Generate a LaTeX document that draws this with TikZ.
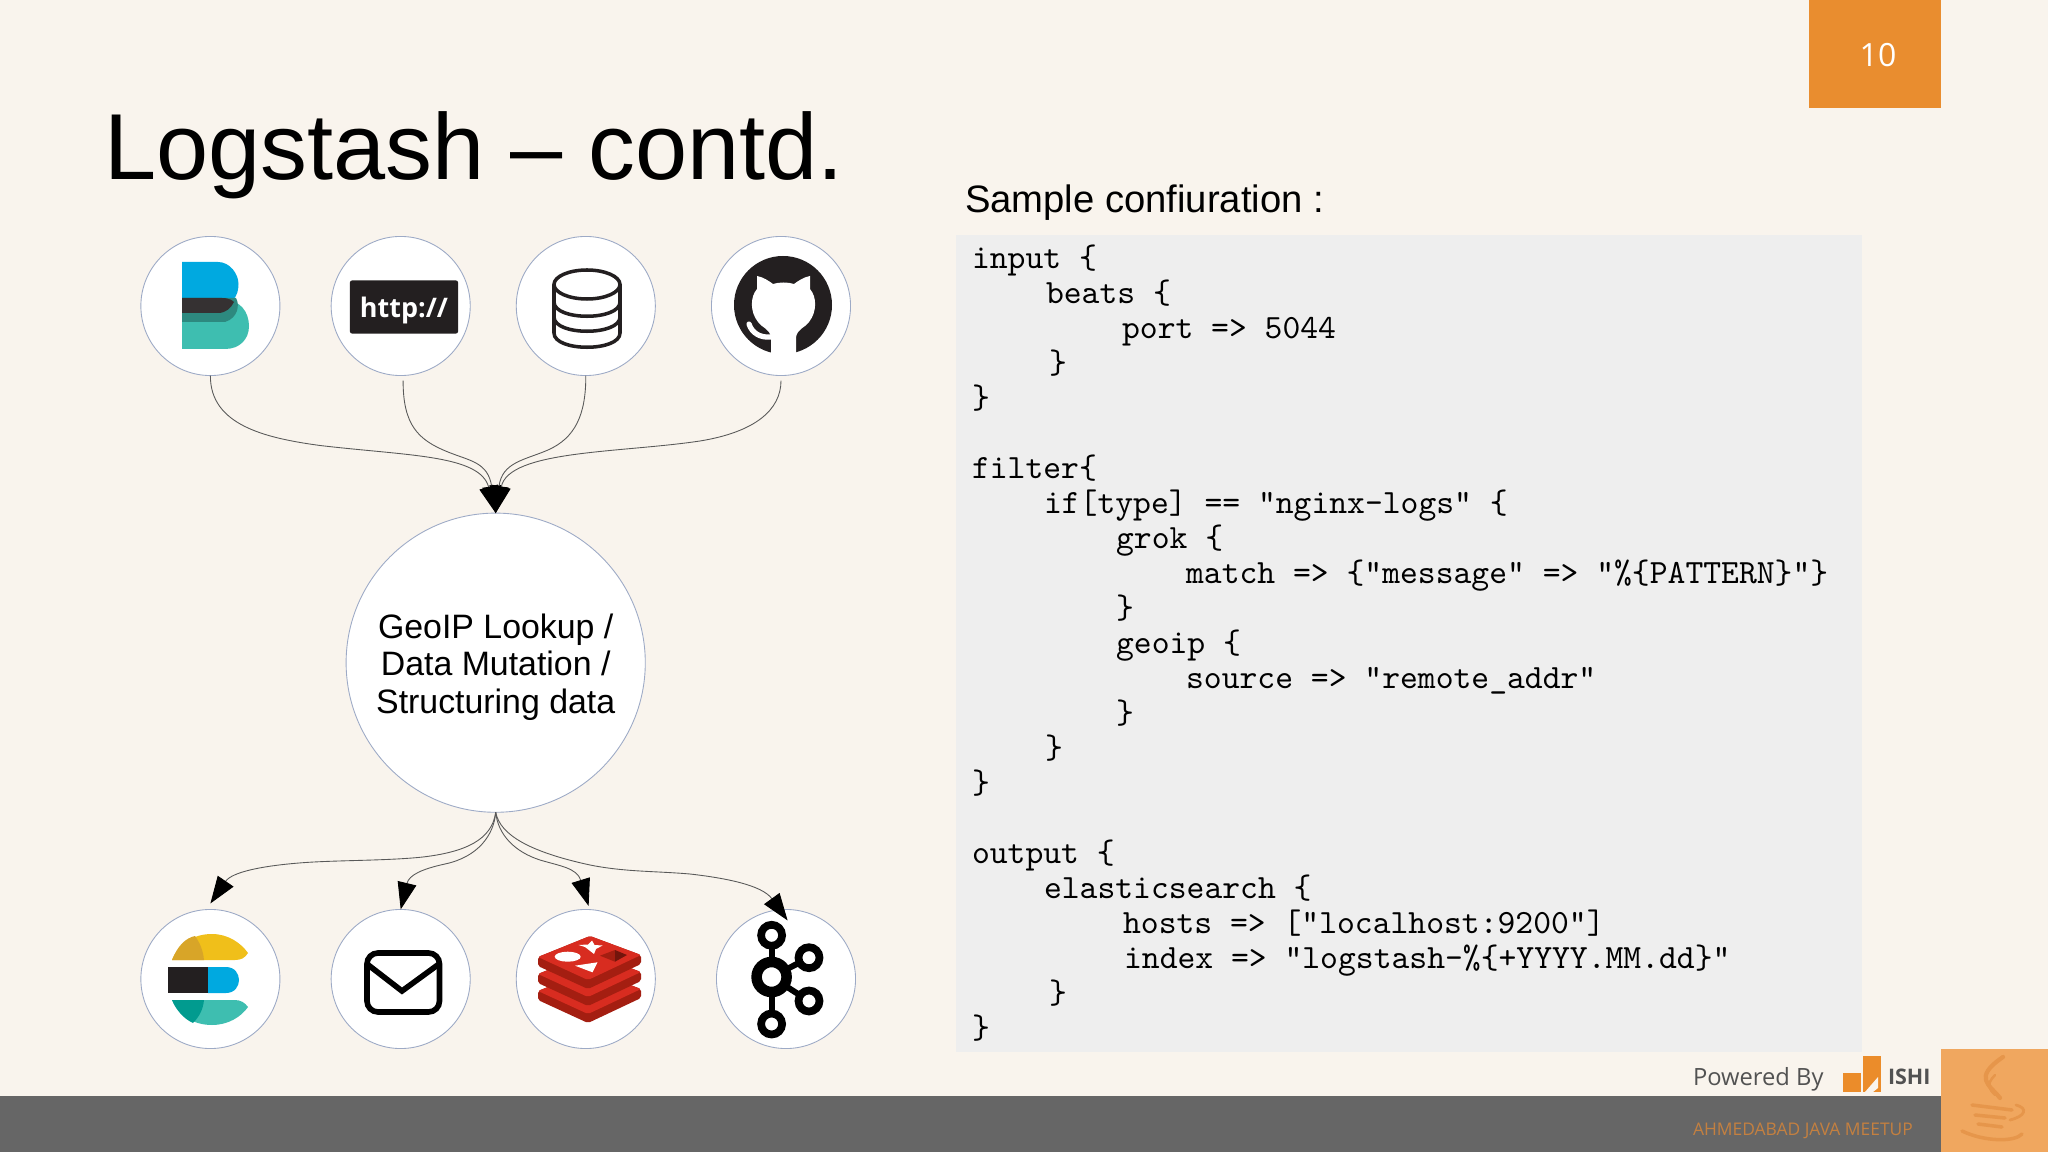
\documentclass[tikz,border=0pt]{standalone}
\usepackage{fontspec}
\setmainfont{Liberation Sans}
\newfontfamily\slidefont{Open Sans}
\usetikzlibrary{arrows.meta}
\definecolor{slidebg}{HTML}{F9F4ED}
\definecolor{pageorange}{HTML}{E98D2F}
\definecolor{codebg}{HTML}{EEEEEE}
\definecolor{ringblue}{HTML}{9DAAC6}
\definecolor{bandgray}{HTML}{666666}
\definecolor{javaorange}{HTML}{F0A75F}
\definecolor{javadark}{HTML}{E6964B}
\definecolor{inkdark}{HTML}{231F20}
\definecolor{elasticblue}{HTML}{00A9E0}
\definecolor{elasticteal}{HTML}{3EBEB0}
\definecolor{elasticdeep}{HTML}{019B8F}
\definecolor{elasticgold}{HTML}{F0BF1A}
\definecolor{elasticamber}{HTML}{D8A528}
\definecolor{redisred}{HTML}{D82C20}
\definecolor{redisdark}{HTML}{A41E11}
\tikzset{
	iconring/.style={circle, draw=ringblue, fill=white, line width=0.25pt, minimum size=1.39cm, inner sep=0pt, outer sep=0pt},
	flowline/.style={line width=0.25pt, color=black!65, -{Triangle[length=0.27cm,width=0.19cm,color=black]}},
	plaintext/.style={inner sep=0pt, outer sep=0pt, anchor=base west},
}

\begin{document}
\begin{tikzpicture}[x=0.01cm,y=-0.01cm]
	%%%%% SLIDE %%%%%
	\useasboundingbox (0,0) rectangle (2048,1152);
	\fill[slidebg] (0,0) rectangle (2048,1152);
	\fill[pageorange] (1809,0) rectangle (1941,108);
	\fill[bandgray] (0,1096) rectangle (1941,1152);
	\fill[javaorange] (1941,1049) rectangle (2048,1152);
	\fill[codebg] (956,235) rectangle (1862,1052);

	\node[text=white, inner sep=0pt] (pageno) at (1878,55) {\slidefont\fontsize{9.1}{11}\selectfont 10};
	\node[plaintext] (title) at (104,180) {\fontsize{26.65}{30}\selectfont Logstash -- contd.};
	\node[plaintext] (sample) at (965,212.5) {\fontsize{10.87}{13}\selectfont Sample confiuration :};

	%%%%% CODE %%%%%
	\node[inner sep=0pt, outer sep=0pt, anchor=north west, align=left, font=\ttfamily\fontsize{9.66}{9.95}\selectfont] (code) at (972,245.2) {%
		input \{\\
		\hspace*{0.74cm}beats \{\\
		\hspace*{1.50cm}port => 5044\\
		\hspace*{0.77cm}\}\\
		\}\\
		\mbox{}\\
		filter\{\\
		\hspace*{0.72cm}if[type] == "nginx-logs" \{\\
		\hspace*{1.44cm}grok \{\\
		\hspace*{2.14cm}match => \{"message" => "\%\{PATTERN\}"\}\\
		\hspace*{1.44cm}\}\\
		\hspace*{1.44cm}geoip \{\\
		\hspace*{2.14cm}source => "remote\_addr"\\
		\hspace*{1.44cm}\}\\
		\hspace*{0.73cm}\}\\
		\}\\
		\mbox{}\\
		output \{\\
		\hspace*{0.72cm}elasticsearch \{\\
		\hspace*{1.51cm}hosts => ["localhost:9200"]\\
		\hspace*{1.52cm}index => "logstash-\%\{+YYYY.MM.dd\}"\\
		\hspace*{0.77cm}\}\\
		\}};

	%%%%% FOOTER %%%%%
	\node[plaintext, text=black!68] (powered) at (1693,1085) {\slidefont\fontsize{6.75}{8}\selectfont Powered By};
	\fill[pageorange!90!orange] (1863,1056) rectangle (1881,1073);
	\fill[pageorange!90!orange] (1843,1073) rectangle (1861,1092);
	\fill[pageorange!90!orange] (1863,1073) rectangle (1881,1092);
	\fill[slidebg] (1865,1092) -- (1878,1077) -- (1878,1088) -- (1873,1092) -- cycle;
	\node[plaintext, text=black!68] (ishi) at (1888,1084) {\slidefont\bfseries\fontsize{6.1}{8}\selectfont ISHI};
	\node[plaintext, text=javadark!85!black] (meetup) at (1693,1135) {\slidefont\fontsize{4.95}{6}\selectfont AHMEDABAD JAVA MEETUP};

	\draw[javadark, line width=1.2pt, line cap=round] (2003,1057) .. controls (1972,1078) and (1990,1085) .. (2000,1098);
	\draw[javadark, line width=0.7pt, line cap=round] (1995,1075) .. controls (1985,1085) and (1990,1090) .. (1995,1095);
	\draw[javadark, line width=1pt, line cap=round] (1972,1105) -- (2012,1110);
	\draw[javadark, line width=1pt, line cap=round] (1975,1115) -- (2005,1118);
	\draw[javadark, line width=1pt, line cap=round] (1978,1124) -- (2002,1127);
	\draw[javadark, line width=1pt, line cap=round] (1962,1131) .. controls (1985,1142) and (2015,1142) .. (2022,1134);
	\draw[javadark, line width=0.8pt, line cap=round] (2016,1105) .. controls (2028,1108) and (2026,1116) .. (2010,1120);

	%%%%% RINGS %%%%%
	\node[iconring] (beats) at (210.4,306) {};
	\node[iconring] (http) at (400.7,306) {};
	\node[iconring] (jdbc) at (585.8,306) {};
	\node[iconring] (github) at (781,306) {};
	\node[iconring, minimum size=2.99cm, align=center, font=\fontsize{9.63}{10.7}\selectfont] (geo) at (495.7,662.7) {\rule{0pt}{0.33cm}GeoIP Lookup /\\Data Mutation /\\Structuring data};
	\node[iconring] (elastic) at (210.4,979) {};
	\node[iconring] (mail) at (400.7,979) {};
	\node[iconring] (redis) at (585.8,979) {};
	\node[iconring] (kafka) at (786,979) {};

	%%%%% BEATS ICON %%%%%
	\fill[elasticteal] (182,349) -- (182,300) -- (225,300) .. controls (240,300) and (249,312) .. (249,326) .. controls (249,339) and (240,349) .. (225,349) -- cycle;
	\fill[elasticblue] (182,262) -- (218,262) .. controls (230,262) and (238.5,274) .. (238.5,284) .. controls (238.5,290) and (237,296) .. (233,300) -- (182,300) -- cycle;
	\fill[black!28!elasticteal] (182,298) -- (236,298) .. controls (240,305) and (238,318) .. (225,322) -- (182,322) -- cycle;
	\fill[inkdark!92!white] (182,298) -- (222,298) .. controls (230,298) and (233,301) .. (234,302) .. controls (231,308) and (226,313) .. (218,313) -- (182,313) -- cycle;

	%%%%% HTTP ICON %%%%%
	\node[fill=inkdark, rounded corners=0.02cm, minimum width=1.08cm, minimum height=0.53cm, inner sep=0pt, text=white, text height=0.28cm, text depth=0.065cm, font=\slidefont\bfseries\fontsize{7.66}{9}\selectfont] (httpbox) at (404,307) {http://};

	%%%%% DATABASE ICON %%%%%
	\draw[inkdark, line width=1pt] (587,284.5) ellipse (33 and 14.5);
	\draw[inkdark, line width=1pt] (554,284.5) -- (554,333) .. controls (554,352) and (620,352) .. (620,333) -- (620,284.5);
	\draw[inkdark, line width=1pt] (554,302) .. controls (554,321) and (620,321) .. (620,302);
	\draw[inkdark, line width=1pt] (554,317) .. controls (554,336) and (620,336) .. (620,317);

	%%%%% GITHUB ICON %%%%%
	\fill[inkdark] (783,305) circle (49);
	\fill[white] (771,354) -- (771,337) .. controls (769,328) and (762,328) .. (758,322) .. controls (750,312) and (750,297) .. (757,289) -- (757,276) .. controls (763,277) and (769,281) .. (773,284) .. controls (779,282) and (788,282) .. (794,284) .. controls (798,281) and (804,277) .. (810,276) -- (810,289) .. controls (817,297) and (817,312) .. (809,322) .. controls (805,328) and (798,328) .. (796,337) -- (796,354) -- cycle;
	\draw[white, line width=1.5pt, line cap=round] (749,324) .. controls (752,333) and (760,338) .. (771,337);

	%%%%% ELASTIC ICON %%%%%
	\fill[elasticgold] (172,960) .. controls (178,945) and (192,934) .. (212,934) .. controls (228,934) and (241,943) .. (248,953) .. controls (245,958) and (241,960) .. (235,960) -- cycle;
	\fill[elasticamber] (172,960) .. controls (178,945) and (186,938) .. (195,936) .. controls (200,943) and (203,950) .. (204,960) -- cycle;
	\fill[inkdark] (168,967) rectangle (208,993);
	\fill[elasticblue] (208,967) -- (226,967) .. controls (235,967) and (239,974) .. (239,980) .. controls (239,986) and (235,993) .. (226,993) -- (208,993) -- cycle;
	\fill[elasticteal] (172,1000) -- (235,1000) .. controls (241,1000) and (245,1003) .. (248,1007) .. controls (241,1017) and (228,1025) .. (212,1025) .. controls (192,1025) and (178,1014) .. (172,1000) -- cycle;
	\fill[elasticdeep] (172,1000) -- (204,1000) .. controls (203,1010) and (199,1017) .. (193,1023) .. controls (184,1019) and (176,1010) .. (172,1000) -- cycle;

	%%%%% MAIL ICON %%%%%
	\draw[black, line width=1.6pt, rounded corners=0.11cm] (367,953) rectangle (439.5,1012);
	\draw[black, line width=1.6pt] (367,964) -- (402,991) -- (439,964);

	%%%%% REDIS ICON %%%%%
	\foreach \dy in {34,17,0}{
		\fill[redisdark, rounded corners=0.02cm] (538,957+\dy) -- (538,966+\dy) -- (588,989+\dy) -- (641,964+\dy) -- (641,955+\dy) -- (590,936+\dy) -- cycle;
		\fill[redisred, rounded corners=0.02cm] (538,957+\dy) -- (590,936+\dy) -- (641,955+\dy) -- (588,980+\dy) -- cycle;
	}
	\fill[white] (567.7,956.7) ellipse (13 and 5);
	\fill[white] (592,940.5) -- (594.5,945) -- (602.5,945.5) -- (596,949) -- (594,954) -- (589.5,950.5) -- (585,947) -- (578.6,945) -- (588,944.5) -- cycle;
	\fill[white] (575,965.7) -- (597.5,962.3) -- (592.5,972.3) -- cycle;
	\fill[redisdark] (600,955.7) -- (615,950) -- (615,961.7) -- cycle;
	\fill[redisdark!70!black] (615,950) -- (627,955) -- (615,961.7) -- cycle;

	%%%%% KAFKA ICON %%%%%
	\draw[black, line width=1.7pt] (771.6,948) -- (771.6,1012);
	\draw[black, line width=1.7pt] (771.6,977) -- (809,957.7);
	\draw[black, line width=1.7pt] (771.6,977) -- (809,1001);
	\foreach \cx/\cy in {771.6/935.3, 771.6/1024, 809/957.7, 809/1001}{
		\draw[black, line width=2.2pt, fill=white] (\cx,\cy) circle (10.5);
	}
	\draw[black, line width=3pt, fill=white] (771.6,977) circle (15);

	%%%%% FLOWS %%%%%
	\draw[flowline] (beats.south) .. controls (210,425) and (265,438) .. (320,445.5) .. controls (410,456) and (480,455) .. (geo.north);
	\draw[flowline] ([shift={(0.024cm,-0.05cm)}]http.south) .. controls (403,425) and (418,440) .. (448,452) .. controls (470,461) and (488,462) .. (geo.north);
	\draw[flowline] (jdbc.south) .. controls (586,415) and (575,438) .. (548,450) .. controls (525,460) and (502,462) .. (geo.north);
	\draw[flowline] ([shift={(0cm,-0.05cm)}]github.south) .. controls (781,410) and (755,432) .. (700,441) .. controls (620,453) and (509,450) .. (geo.north);

	\draw[flowline] (geo.south) .. controls (492,840) and (465,852) .. (423,857) .. controls (385,861) and (335,860) .. (299,863) .. controls (262,866) and (232,872) .. ([yshift=0.06cm]elastic.north);
	\draw[flowline] (geo.south) .. controls (494,835) and (478,857) .. (445,864) .. controls (422,869) and (409,875) .. (mail.north);
	\draw[flowline] (geo.south) .. controls (498,835) and (515,852) .. (540,860) .. controls (560,866) and (577,868) .. ([shift={(0.028cm,0.035cm)}]redis.north);
	\draw[flowline] (geo.south) .. controls (500,835) and (530,852) .. (590,865) .. controls (625,872) and (655,871) .. (690,874) .. controls (725,878) and (762,885) .. ([shift={(0.016cm,-0.11cm)}]kafka.north);
	%%%%% END %%%%%
\end{tikzpicture}
\end{document}
